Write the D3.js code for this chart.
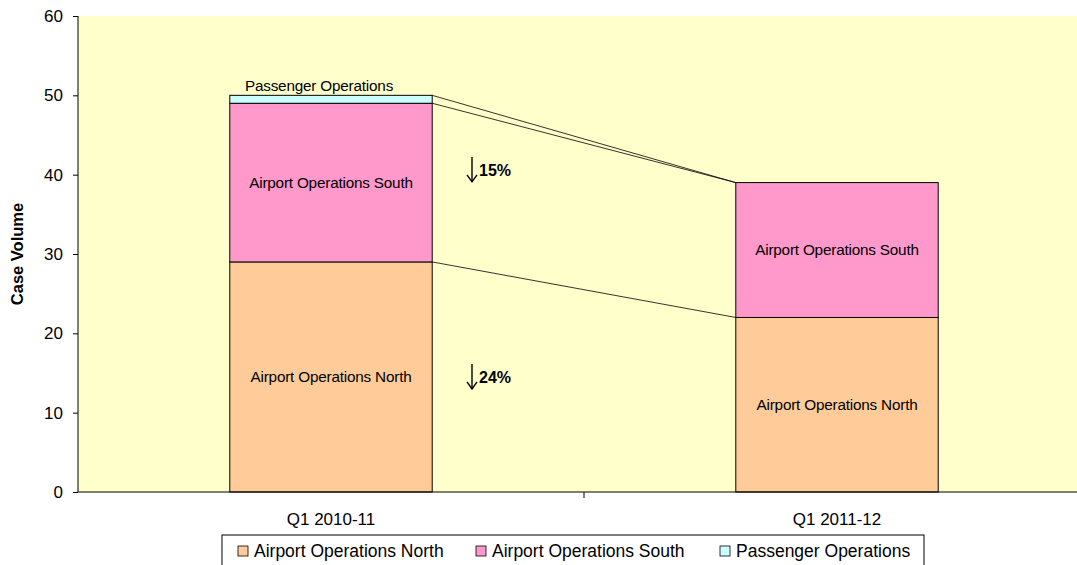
<!DOCTYPE html>
<html lang="en">
<head>
<meta charset="UTF-8">
<script src="https://d3js.org/d3.v7.min.js"></script>
<style>
  body { margin: 0; background: #fff; }
  text { font-family: "Liberation Sans", Arial, sans-serif; }
</style>
</head>
<body>
<script>
// data
var categories = ["Q1 2010-11", "Q1 2011-12"];
var seriesNames = ["Airport Operations North", "Airport Operations South", "Passenger Operations"];
var north = [29, 22];
var south = [20, 17];
var passenger = [1, 0];
var yTicks = [0, 10, 20, 30, 40, 50, 60];
var changes = [{ label: "24%", value: 14.5 }, { label: "15%", value: 40.6 }];
var colors = ["#FFCC99", "#FF99CC", "#CCFFFF"];

var W = 1077, H = 565;
var margin = { left: 78, top: 16, right: -13, bottom: 73 };
var plotW = W - margin.left - margin.right, plotH = H - margin.top - margin.bottom;

var svg = d3.select("body").append("svg")
    .attr("width", W)
    .attr("height", H);

var g = svg.append("g").attr("transform", "translate(" + margin.left + "," + margin.top + ")");

var x = d3.scaleBand().domain(categories).range([0, plotW]).paddingInner(0.6).paddingOuter(0.3);
var y = d3.scaleLinear().domain([0, 60]).range([plotH, 0]);

g.append("rect")
    .attr("width", plotW).attr("height", plotH)
    .attr("fill", "#FFFFCC");

// stack
var rows = categories.map(function(c, i) {
    return { cat: c, north: north[i], south: south[i], passenger: passenger[i] };
});
var stack = d3.stack().keys(["north", "south", "passenger"])(rows);

// connector lines between bars
var x0 = x(categories[0]) + x.bandwidth(), x1 = x(categories[1]);
var conn = [
    [north[0], north[1]],
    [north[0] + south[0], north[1] + south[1]],
    [north[0] + south[0] + passenger[0], north[1] + south[1] + passenger[1]]
];
g.selectAll("line.conn").data(conn).enter().append("line")
    .attr("x1", x0).attr("x2", x1)
    .attr("y1", function(d) { return y(d[0]); })
    .attr("y2", function(d) { return y(d[1]); })
    .attr("stroke", "#000").attr("stroke-width", 0.8);

stack.forEach(function(layer, k) {
    g.selectAll("rect.s" + k).data(layer.filter(function(d) { return d[1] > d[0]; }))
        .enter().append("rect")
        .attr("x", function(d) { return x(d.data.cat); })
        .attr("y", function(d) { return y(d[1]); })
        .attr("width", x.bandwidth())
        .attr("height", function(d) { return y(d[0]) - y(d[1]); })
        .attr("fill", colors[k])
        .attr("stroke", "#000")
        .attr("stroke-width", 1);
});

// segment labels
stack.slice(0, 2).forEach(function(layer, k) {
    g.selectAll("text.l" + k).data(layer).enter().append("text")
        .attr("x", function(d) { return x(d.data.cat) + x.bandwidth() / 2; })
        .attr("y", function(d) { return y((d[0] + d[1]) / 2) + 5; })
        .attr("text-anchor", "middle")
        .attr("font-size", 15.3)
        .attr("letter-spacing", -0.2)
        .text(seriesNames[k]);
});
g.append("text")
    .attr("x", x(categories[0]) + x.bandwidth() / 2 - 12)
    .attr("y", y(50) - 4)
    .attr("text-anchor", "middle")
    .attr("font-size", 15.3)
    .attr("letter-spacing", -0.2)
    .text(seriesNames[2]);

// change annotations: arrow + percentage
var ax = (x0 + x1) / 2 - 112;
var chg = g.selectAll("g.chg").data(changes).enter().append("g")
    .attr("transform", function(d) { return "translate(" + ax + "," + y(d.value) + ")"; });
chg.append("line").attr("x1", 0).attr("x2", 0).attr("y1", -13).attr("y2", 11)
    .attr("stroke", "#000").attr("stroke-width", 1.4);
chg.append("path").attr("d", "M-5,5L0,12L5,5")
    .attr("fill", "none").attr("stroke", "#000").attr("stroke-width", 1.4);
chg.append("text").attr("x", 7).attr("y", 6)
    .attr("font-size", 16)
    .attr("font-weight", "bold")
    .text(function(d) { return d.label; });

// axes
var yAxis = d3.axisLeft(y).tickValues(yTicks).tickSize(5).tickPadding(10);
var ya = g.append("g").call(yAxis);
ya.select(".domain").attr("d", "M0,0V" + plotH);
ya.selectAll("text").attr("font-size", 17).attr("fill", "#000").attr("font-family", "Liberation Sans, Arial, sans-serif");

var xa = g.append("g").attr("transform", "translate(0," + plotH + ")");
xa.append("line").attr("x1", 0).attr("x2", plotW).attr("stroke", "#000");
xa.append("line").attr("x1", plotW / 2).attr("x2", plotW / 2).attr("y1", 0).attr("y2", 6).attr("stroke", "#000");
xa.selectAll("text").data(categories).enter().append("text")
    .attr("x", function(d) { return x(d) + x.bandwidth() / 2; })
    .attr("y", 33)
    .attr("text-anchor", "middle")
    .attr("font-size", 17)
    .text(function(d) { return d; });

svg.append("text")
    .attr("transform", "translate(23," + (margin.top + plotH / 2) + ") rotate(-90)")
    .attr("text-anchor", "middle")
    .attr("font-size", 16.5)
    .attr("font-weight", "bold")
    .text("Case Volume");

// legend
var lg = svg.append("g").attr("transform", "translate(222,535)");
lg.append("rect").attr("width", 702).attr("height", 31)
    .attr("fill", "#fff").attr("stroke", "#000").attr("stroke-width", 1);
var lx = [16, 254, 498];
var items = lg.selectAll("g.item").data(seriesNames).enter().append("g")
    .attr("transform", function(d, i) { return "translate(" + lx[i] + ",16)"; });
items.append("rect").attr("x", 0).attr("y", -5).attr("width", 10).attr("height", 10)
    .attr("fill", function(d, i) { return colors[i]; })
    .attr("stroke", "#000").attr("stroke-width", 0.8);
items.append("text").attr("x", 16).attr("y", 6)
    .attr("font-size", 17.5)
    .text(function(d) { return d; });
</script>
</body>
</html>
